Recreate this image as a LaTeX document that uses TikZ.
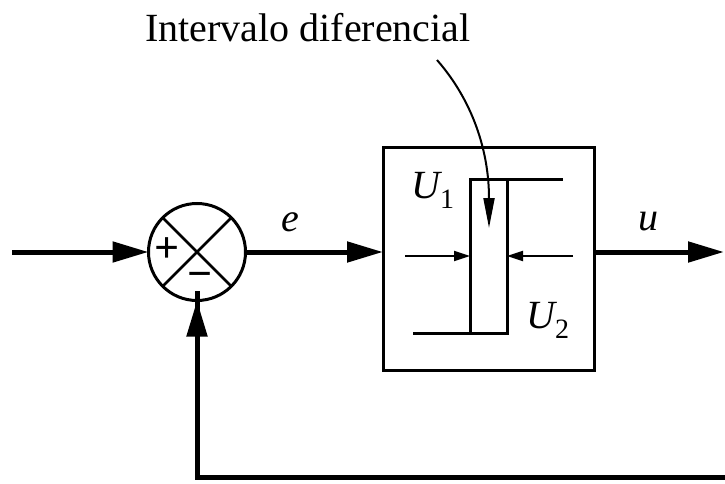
\documentclass[tikz,border=0pt]{standalone}
\usepackage{fontspec}
\setmainfont{Liberation Serif}
\usetikzlibrary{arrows.meta,calc}
\tikzset{
  sig/.style={line width=5pt,-{Triangle[length=36pt,width=20pt]}},
  sigline/.style={line width=5pt},
  frame/.style={draw,line width=3pt,inner sep=0pt,outer sep=0pt},
  small/.style={line width=2pt,-{Triangle[length=16pt,width=10pt]}},
  lab/.style={font=\fontsize{40}{44}\selectfont\itshape,inner sep=0pt},
  sign/.style={inner sep=0pt,font=\fontsize{44}{44}\selectfont\bfseries},
}
\begin{document}
\begin{tikzpicture}[x=1pt,y=-1pt]
\useasboundingbox (0,0) rectangle (725,484);
% summing junction
\node[frame,circle,minimum size=97pt] (sum) at (197,252) {};
\draw[line width=2.5pt] (sum.45) -- (sum.225) (sum.135) -- (sum.-45);
\node[sign] (plus) at (167,250) {+};
\node[sign] (minus) at (200,280) {\textminus};
% block
\node[frame,minimum width=211pt,minimum height=223pt] (box) at (488.5,258.5) {};
% hysteresis
\node[frame,minimum width=37pt,minimum height=154pt] (hyst) at (488.5,256) {};
\coordinate (topend) at (563,179);
\coordinate (botend) at (413,333);
\draw[line width=3pt] (hyst.north east) -- (topend);
\draw[line width=3pt] (botend) -- (hyst.south west);
\coordinate (la) at (405,256);
\coordinate (ra) at (573,256);
\draw[small] (la) -- (hyst.west);
\draw[small] (ra) -- (hyst.east);
\node[lab] (U1) at (433,190) {U\textsubscript{\upshape 1}};
\node[lab] (U2) at (548,320) {U\textsubscript{\upshape 2}};
% label and curved arrow
\node[inner sep=0pt,font=\fontsize{40}{42}\selectfont] (title) at (308,28) {Intervalo diferencial};
\coordinate (cs) at (437,60);
\coordinate (ce) at (489,228);
\draw[line width=2pt,-{Triangle[length=30pt,width=11pt]}] (cs) .. controls (472,100) and (489,150) .. (ce);
% signals
\coordinate (in) at (12,252);
\draw[sig] (in) -- (sum.west);
\draw[sig] (sum.east) -- (sum.east -| box.west);
\node[lab] (e) at (290,222) {e};
\coordinate (out) at (724,252);
\draw[sig] (sum.east -| box.east) -- (out);
\node[lab] (u) at (648,222) {u};
\coordinate (fb) at (727,477);
\draw[sigline] (fb) -- (sum.south |- fb) -- ([yshift=10pt]sum.south);
\draw[sig] ([yshift=10pt]sum.south |- fb) -- (sum.south);
\end{tikzpicture}
\end{document}
